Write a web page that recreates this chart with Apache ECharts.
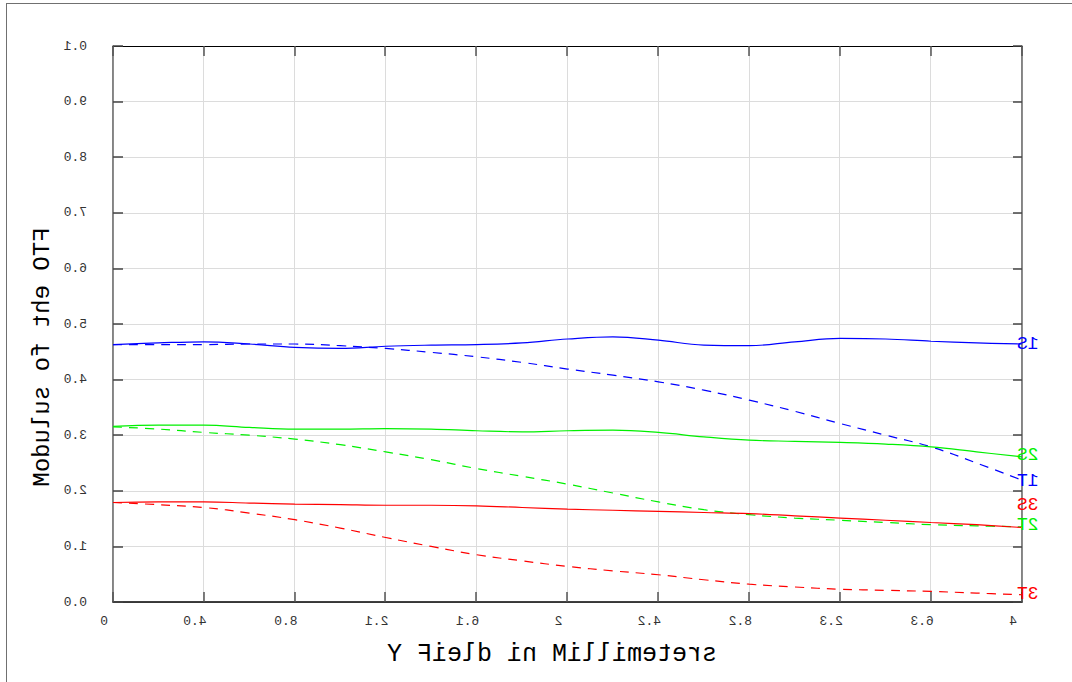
<!DOCTYPE html>
<html><head><meta charset="utf-8">
<script src="https://cdn.jsdelivr.net/npm/echarts@6/dist/echarts.min.js"></script>
<style>
html,body{margin:0;padding:0;background:#fff;}
#wrap{position:relative;width:1072px;height:682px;overflow:hidden;background:#fff;}
#chart{position:absolute;left:0;top:0;width:1072px;height:682px;transform:scaleX(-1);}
#chart svg text{direction:rtl;unicode-bidi:bidi-override;}
.frame-top{position:absolute;left:6px;top:3px;width:1066px;height:1px;background:#707070;}
.frame-left{position:absolute;left:6px;top:3px;width:1px;height:679px;background:#707070;}
</style></head>
<body><div id="wrap"><div id="chart"></div><div class="frame-top"></div><div class="frame-left"></div></div>
<script>
// Field positions (mm)
const fieldY = [0,0.2,0.4,0.6,0.8,1.0,1.2,1.4,1.6,1.8,2.0,2.2,2.4,2.6,2.8,3.0,3.2,3.4,3.6,3.8,4.0];
// Modulus of the OTF per field
const S1 = [0.463,0.466,0.468,0.464,0.458,0.456,0.460,0.462,0.463,0.466,0.473,0.477,0.471,0.462,0.461,0.468,0.474,0.473,0.469,0.466,0.464];
const T1 = [0.463,0.463,0.463,0.464,0.464,0.461,0.456,0.449,0.441,0.431,0.419,0.408,0.396,0.381,0.363,0.343,0.321,0.300,0.279,0.250,0.219];
const S2 = [0.316,0.318,0.318,0.314,0.311,0.311,0.312,0.311,0.308,0.306,0.308,0.309,0.305,0.297,0.291,0.289,0.287,0.284,0.279,0.270,0.261];
const T2 = [0.315,0.311,0.305,0.300,0.293,0.283,0.270,0.256,0.240,0.226,0.212,0.196,0.180,0.166,0.157,0.151,0.147,0.143,0.139,0.137,0.135];
const S3 = [0.179,0.180,0.180,0.178,0.176,0.175,0.174,0.174,0.173,0.170,0.167,0.165,0.163,0.161,0.159,0.155,0.151,0.147,0.143,0.139,0.134];
const T3 = [0.179,0.175,0.170,0.160,0.148,0.133,0.116,0.100,0.085,0.074,0.064,0.056,0.049,0.040,0.032,0.027,0.023,0.021,0.019,0.016,0.013];
const seriesNames = ['S1','T1','S2','T2','S3','T3'];
const xTickLabels = ['0','0.4','0.8','1.2','1.6','2','2.4','2.8','3.2','3.6','4'];
const yTickLabels = ['0.0','0.1','0.2','0.3','0.4','0.5','0.6','0.7','0.8','0.9','1.0'];
const xTitle = 'Y Field in Millimeters';
const yTitle = 'Modulus of the OTF';

const FONT = '"Liberation Mono","Courier New",monospace';
const colors = {S1:'#0000ff',T1:'#0000ff',S2:'#00f000',T2:'#00f000',S3:'#ff0000',T3:'#ff0000'};
const labelDy = {S1:0,T1:1,S2:-2,T2:-2,S3:-22,T3:-1};
const valuesByName = {S1,T1,S2,T2,S3,T3};

const chart = echarts.init(document.getElementById('chart'), null, {renderer:'svg', width:1072, height:682});

const series = seriesNames.map(name => ({
  name,
  type:'line',
  smooth:0.4,
  showSymbol:false,
  symbol:'none',
  silent:true,
  data: fieldY.map((x,i)=>[x, valuesByName[name][i]]),
  lineStyle:{color:colors[name], width:1.2, type: name[0]==='T' ? [9,7] : 'solid'},
  endLabel:{
    show:true, formatter:name, color:colors[name],
    fontFamily:FONT, fontSize:18, align:'left', distance:-5,
    offset:[0,labelDy[name]]
  }
}));

const option = {
  animation:false,
  backgroundColor:'#fff',
  grid:{left:50, right:113, top:46, bottom:80, containLabel:false},
  xAxis:[{
    type:'value', min:0, max:4, interval:0.4, inverse:true, position:'bottom',
    axisLine:{show:true, onZero:false, lineStyle:{color:'#000', width:1.5}},
    axisTick:{show:true, inside:true, length:10, lineStyle:{color:'#555', width:1.5}},
    splitLine:{show:true, lineStyle:{color:'#dcdcdc', width:1}},
    axisLabel:{show:true, margin:13, color:'#333', fontFamily:FONT, fontSize:13,
      padding:[0,0,0,18],
      formatter:(v)=> xTickLabels[Math.round(v/0.4)] }
  },{
    type:'value', min:0, max:4, interval:0.4, inverse:true, position:'top',
    axisLine:{show:true, onZero:false, lineStyle:{color:'#000', width:1.2}},
    axisTick:{show:true, inside:true, length:10, lineStyle:{color:'#555', width:1.5}},
    splitLine:{show:false}, axisLabel:{show:false}
  }],
  yAxis:[{
    type:'value', min:0, max:1, interval:0.1, position:'right',
    axisLine:{show:true, onZero:false, lineStyle:{color:'#666', width:1.5}},
    axisTick:{show:true, inside:true, length:10, lineStyle:{color:'#444', width:1.5}},
    splitLine:{show:true, lineStyle:{color:'#dcdcdc', width:1}},
    axisLabel:{show:true, margin:26, align:'right', color:'#333', fontFamily:FONT, fontSize:13,
      formatter:(v)=> yTickLabels[Math.round(v*10)] }
  },{
    type:'value', min:0, max:1, interval:0.1, position:'left',
    axisLine:{show:true, onZero:false, lineStyle:{color:'#666', width:1.5}},
    axisTick:{show:true, inside:true, length:9, lineStyle:{color:'#444', width:1.5}},
    splitLine:{show:false}, axisLabel:{show:false}
  }],
  graphic:[
    {type:'text', x:520, y:654, silent:true,
     style:{text:xTitle, fill:'#000', font:'25px '+FONT, textAlign:'center', textVerticalAlign:'middle'}},
    {type:'text', x:1030, y:357, rotation:-Math.PI/2, silent:true,
     style:{text:yTitle, fill:'#000', font:'24px '+FONT, textAlign:'center', textVerticalAlign:'middle'}}
  ],
  series
};
chart.setOption(option);
</script></body></html>
